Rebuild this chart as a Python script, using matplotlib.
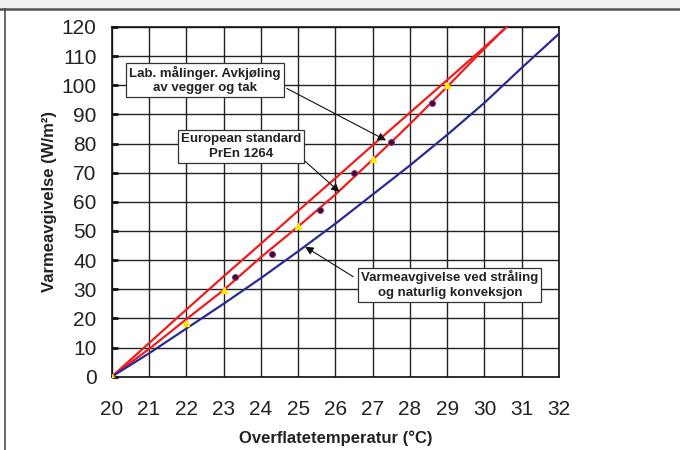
import matplotlib
matplotlib.use("Agg")
import matplotlib.pyplot as plt
from matplotlib.lines import Line2D
from matplotlib.patches import Rectangle

plt.rcParams['font.family'] = ['Liberation Sans', 'DejaVu Sans']

# Surface temperature (°C) and heat output (W/m²)
en_temp = [20, 21, 22, 23, 24, 25, 26, 27, 28, 29, 30, 30.6]
en_heat = [0, 11.5, 23.0, 34.4, 45.6, 56.9, 68.1, 79.4, 90.6, 101.8, 113.1, 120]

lab_temp = [20, 21, 22, 23, 24, 25, 26, 27, 27.5, 28, 29, 29.8, 30.5]
lab_heat = [0, 9.5, 19.7, 29.7, 41.0, 51.5, 62.5, 74.5, 80.5, 86.7, 99.5, 110, 119]

rad_temp = [20, 21, 22, 23, 24, 25, 26, 27, 28, 29, 30, 31, 32]
rad_heat = [0, 8.0, 16.5, 25.0, 33.8, 43.0, 52.5, 62.5, 72.5, 83.0, 94.0, 106.0, 117.7]

dot_temp = [20, 23.3, 24.3, 25.6, 26.5, 27.5, 28.6]
dot_heat = [0, 34.1, 42.0, 57.1, 69.8, 80.6, 94.0]

tri_temp = [20, 22, 23, 25, 27, 29]
tri_heat = [0, 18.3, 29.7, 51.8, 74.6, 100.0]

x_ticks = list(range(20, 33))
y_ticks = list(range(0, 121, 10))

fig = plt.figure(figsize=(6.8, 4.5), dpi=100)
fig.patch.set_facecolor('white')

# window frame: grey strip at the top, dark rule below it and on the left
fig.add_artist(Rectangle((0, 1 - 8 / 450), 1, 8 / 450, transform=fig.transFigure,
                         facecolor='#f0f0f0', edgecolor='none'))
fig.add_artist(Line2D([0, 1], [1 - 9 / 450, 1 - 9 / 450], transform=fig.transFigure,
                      color='#505050', lw=1.8))
fig.add_artist(Line2D([4.5 / 680, 4.5 / 680], [0, 1 - 9 / 450], transform=fig.transFigure,
                      color='#505050', lw=1.2))

ax = fig.add_axes([111.7 / 680, 1 - 376.7 / 450, (559 - 111.7) / 680, (376.7 - 27) / 450])
ax.set_xlim(20, 32)
ax.set_ylim(0, 120)
ax.set_xticks(x_ticks)
ax.set_yticks(y_ticks)
ax.grid(True, color='#222222', lw=1.0)
ax.set_axisbelow(True)
for s in ax.spines.values():
    s.set_color('#111111')
    s.set_linewidth(1.2)
ax.tick_params(axis='y', direction='in', length=4, width=2, labelsize=15, pad=11,
               colors='#111111', labelcolor='#222222')
ax.tick_params(axis='x', length=0, labelsize=15, pad=17, labelcolor='#222222')

ax.plot(en_temp, en_heat, color='#f01c1c', lw=1.6, zorder=3)
ax.plot(lab_temp, lab_heat, color='#f01c1c', lw=1.6, zorder=3)
ax.plot(rad_temp, rad_heat, color='#2a2a96', lw=1.6, zorder=3)
ax.plot(dot_temp, dot_heat, 'o', ms=4.2, color='#3a0a30', mec='#8a2a7a', mew=0.8, zorder=4)
ax.plot(tri_temp, tri_heat, '^', ms=4.5, color='#ffe600', mec='#ffe600', zorder=4)

ax.set_xlabel('Overflatetemperatur (°C)', fontsize=12, fontweight='bold', labelpad=8,
              color='#222222')
ax.set_ylabel('Varmeavgivelse (W/m²)', fontsize=12, fontweight='bold', labelpad=3,
              color='#222222')

box = dict(boxstyle='square,pad=0.22', facecolor='white', edgecolor='#333333', lw=0.9)
arrow = dict(arrowstyle='-|>', color='#111111', lw=0.8, mutation_scale=12, shrinkA=0, shrinkB=0)

ax.annotate('', xy=(27.36, 81.1), xytext=(24.70, 98.9), arrowprops=arrow, zorder=6)
ax.annotate('', xy=(26.11, 63.4), xytext=(25.19, 73.9), arrowprops=arrow, zorder=6)
ax.annotate('', xy=(25.19, 44.6), xytext=(26.48, 34.3), arrowprops=arrow, zorder=6)

ax.text(22.50, 101.7, 'Lab. målinger. Avkjøling\nav vegger og tak', fontsize=9.5,
        fontweight='bold', ha='center', va='center', linespacing=1.25, bbox=box, zorder=7,
        color='#222222')
ax.text(23.47, 79.0, 'European standard\nPrEn 1264', fontsize=9.5,
        fontweight='bold', ha='center', va='center', linespacing=1.25, bbox=box, zorder=7,
        color='#222222')
ax.text(29.07, 31.6, 'Varmeavgivelse ved stråling\nog naturlig konveksjon', fontsize=9.5,
        fontweight='bold', ha='center', va='center', linespacing=1.25, bbox=box, zorder=7,
        color='#222222')

fig.savefig('out.png', dpi=100)
